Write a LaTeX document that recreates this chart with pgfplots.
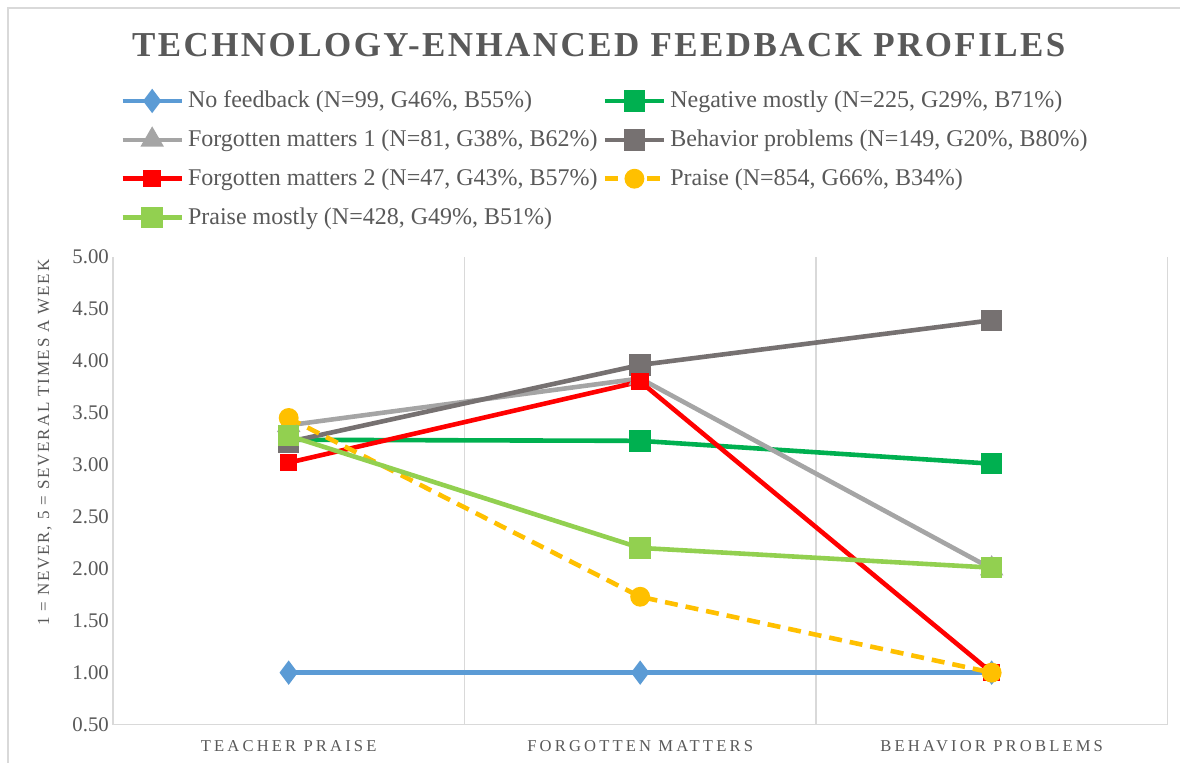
\documentclass[border=0pt]{standalone}
\usepackage{fontspec}
\setmainfont{Liberation Serif}
\newfontfamily\spaced[LetterSpace=19]{Liberation Serif}
\newfontfamily\yspaced[LetterSpace=10.5]{Liberation Serif}
\newfontfamily\titlefont[LetterSpace=7]{Liberation Serif}
\usepackage{pgfplots}
\pgfplotsset{compat=1.18}
\definecolor{txt}{HTML}{595959}
\definecolor{cNo}{HTML}{5B9BD5}
\definecolor{cNeg}{HTML}{00B050}
\definecolor{cFM1}{HTML}{A5A5A5}
\definecolor{cBeh}{HTML}{767171}
\definecolor{cFM2}{HTML}{FF0000}
\definecolor{cPr}{HTML}{FFC000}
\definecolor{cPrM}{HTML}{92D050}
\definecolor{gridc}{HTML}{D9D9D9}
\begin{document}
\begin{tikzpicture}
\begin{axis}[
  scale only axis, width=527.5pt, height=234pt,
  xmin=-0.5, xmax=2.5, ymin=0.5, ymax=5,
  xtick={0,1,2},
  xticklabels={TEACHER PRAISE, FORGOTTEN MATTERS, BEHAVIOR PROBLEMS},
  xticklabel style={font=\spaced\fontsize{8.3}{10}\selectfont, text=txt, yshift=-4.5pt},
  ytick={0.5,1,1.5,2,2.5,3,3.5,4,4.5,5},
  yticklabel={\pgfmathprintnumber[fixed,fixed zerofill,precision=2]{\tick}},
  /pgf/number format/assume math mode=true,
  yticklabel style={font=\fontsize{10.4}{12}\selectfont, text=txt, xshift=1.5pt},
  extra x ticks={-0.5,0.5,1.5,2.5},
  extra x tick labels={},
  extra x tick style={grid=major, major grid style={gridc, line width=0.8pt}},
  major tick length=0pt,
  axis x line*=bottom, axis y line*=left,
  axis line style={gridc, line width=0.8pt, -},
  ylabel={\yspaced\fontsize{8.5}{10}\selectfont 1 = NEVER, 5 = SEVERAL TIMES A WEEK},
  ylabel style={text=txt, at={(axis description cs:-0.0645,0.6026)}, anchor=center},
  legend columns=2,
  legend cell align=left,
  legend style={at={(axis description cs:0.0066,1.364)}, anchor=north west, draw=none,
    font=\fontsize{12}{14}\selectfont, text=txt, row sep=5.6pt, inner sep=0pt,
    /tikz/every even column/.append style={column sep=0.5pt}},
  legend image code/.code={\draw[mark repeat=2,mark phase=2] plot coordinates {(0cm,0cm) (0.52cm,0cm) (1.04cm,0cm)};},
  every axis plot/.append style={line width=2.3pt},
  clip=false,
]
\addplot[cNo, mark=diamond*, mark size=4.2pt, mark options={solid}] coordinates {(0,1) (1,1) (2,1)};
\addlegendentry{No feedback (N=99, G46\%, B55\%)}
\addplot[cNeg, mark=square*, mark size=4.2pt, mark options={solid}] coordinates {(0,3.24) (1,3.23) (2,3.01)};
\addlegendentry{Negative mostly (N=225, G29\%, B71\%)}
\addplot[cFM1, mark=triangle*, mark size=4.5pt, mark options={solid}] coordinates {(0,3.38) (1,3.83) (2,2.00)};
\addlegendentry{Forgotten matters 1 (N=81, G38\%, B62\%)}
\addplot[cBeh, mark=square*, mark size=4.2pt, mark options={solid}] coordinates {(0,3.22) (1,3.96) (2,4.39)};
\addlegendentry{Behavior problems (N=149, G20\%, B80\%)}
\addplot[cFM2, mark=square*, mark size=3.2pt, mark options={solid}] coordinates {(0,3.02) (1,3.80) (2,1.00)};
\addlegendentry{Forgotten matters 2 (N=47, G43\%, B57\%)}
\addplot[cPr, dashed, dash pattern=on 6.5pt off 4pt, mark=*, mark size=3.8pt, mark options={solid}] coordinates {(0,3.45) (1,1.73) (2,1.00)};
\addlegendentry{Praise (N=854, G66\%, B34\%)}
\addplot[cPrM, mark=square*, mark size=4.2pt, mark options={solid}] coordinates {(0,3.28) (1,2.20) (2,2.01)};
\addlegendentry{Praise mostly (N=428, G49\%, B51\%)}
\node[font=\titlefont\bfseries\fontsize{17.5}{21}\selectfont, text=txt] at (axis description cs:0.4607,1.453) {TECHNOLOGY-ENHANCED FEEDBACK PROFILES};
\draw[gridc, line width=0.6pt] (axis description cs:-0.0995,-0.0812) -- (axis description cs:-0.0995,1.532) -- (axis description cs:1.0123,1.532);
\path (axis description cs:-0.1071,-0.0812) rectangle (axis description cs:1.0123,1.5491);
\end{axis}
\end{tikzpicture}
\end{document}
